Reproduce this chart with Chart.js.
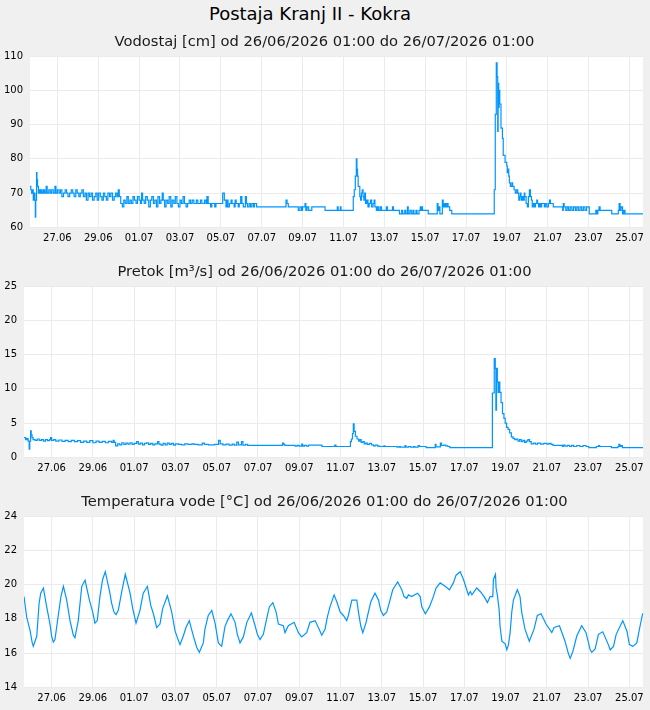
<!DOCTYPE html>
<html>
<head>
<meta charset="utf-8">
<script src="https://cdn.jsdelivr.net/npm/chart.js@4/dist/chart.umd.min.js"></script>
<style>
  body { margin: 0; background: #f0f0f0; width: 650px; height: 710px; overflow: hidden; font-family: 'DejaVu Sans', sans-serif; }
  #title { position: absolute; left: 0; width: 620px; top: 3px; text-align: center; font-size: 18px; color: #000; }
  .panel { position: absolute; left: 0; width: 650px; height: 230px; }
</style>
</head>
<body>
<div id="title">Postaja Kranj II - Kokra</div>
<div class="panel" style="top:26px"><canvas id="levelChart" width="650" height="230"></canvas></div>
<div class="panel" style="top:256px"><canvas id="flowChart" width="650" height="230"></canvas></div>
<div class="panel" style="top:486px"><canvas id="tempChart" width="650" height="230"></canvas></div>
<script>
// x positions are days since 26.06 00:00
const tickDays = [1, 3, 5, 7, 9, 11, 13, 15, 17, 19, 21, 23, 25, 27, 29];
const tickLabels = ['27.06', '29.06', '01.07', '03.07', '05.07', '07.07', '09.07', '11.07',
                    '13.07', '15.07', '17.07', '19.07', '21.07', '23.07', '25.07'];

// Vodostaj [cm]
const levelDays = [
  -0.34, -0.30, -0.26, -0.22, -0.18, -0.14, -0.10, -0.08, -0.06, -0.02,
  0.00, 0.03, 0.07, 0.12, 0.16, 0.20, 0.25, 0.32, 0.38, 0.45,
  0.50, 0.58, 0.65, 0.72, 0.80, 0.88, 0.93, 1.00, 1.08, 1.15,
  1.22, 1.30, 1.38, 1.45, 1.52, 1.60, 1.68, 1.75, 1.82, 1.90,
  1.97, 2.05, 2.12, 2.20, 2.27, 2.35, 2.42, 2.50, 2.57, 2.65,
  2.72, 2.80, 2.88, 2.95, 3.02, 3.10, 3.18, 3.25, 3.32, 3.40,
  3.47, 3.55, 3.62, 3.70, 3.78, 3.85, 3.92, 3.98, 4.03, 4.10,
  4.18, 4.25, 4.32, 4.40, 4.47, 4.55, 4.62, 4.70, 4.77, 4.85,
  4.92, 5.00, 5.07, 5.12, 5.17, 5.25, 5.32, 5.40, 5.47, 5.55,
  5.62, 5.70, 5.77, 5.85, 5.92, 6.00, 6.07, 6.13, 6.18, 6.25,
  6.32, 6.40, 6.47, 6.55, 6.62, 6.70, 6.77, 6.85, 6.92, 7.00,
  7.07, 7.15, 7.22, 7.30, 7.37, 7.45, 7.52, 7.60, 7.68, 7.80,
  7.87, 8.00, 8.07, 8.20, 8.27, 8.32, 8.38, 8.50, 8.56, 8.70,
  8.76, 9.00, 9.09, 9.17, 9.25, 9.30, 9.35, 9.42, 9.50, 9.55,
  9.65, 9.70, 9.75, 9.85, 9.90, 9.97, 10.03, 10.10, 10.20, 10.25,
  10.30, 10.38, 10.45, 10.52, 10.60, 10.65, 10.75, 12.19, 12.24, 12.30,
  12.79, 12.87, 12.95, 13.00, 13.12, 13.16, 13.22, 13.30, 13.45, 14.10,
  14.70, 14.74, 14.85, 14.88, 15.48, 15.53, 15.58, 15.63, 15.66, 15.69,
  15.72, 15.76, 15.80, 15.84, 15.88, 15.92, 15.96, 16.00, 16.04, 16.08,
  16.14, 16.20, 16.26, 16.32, 16.38, 16.45, 16.50, 16.54, 16.61, 16.66,
  16.72, 16.80, 16.86, 17.10, 17.15, 17.40, 17.45, 17.74, 17.85, 17.90,
  18.00, 18.05, 18.13, 18.17, 18.25, 18.32, 18.40, 18.45, 18.55, 18.60,
  18.70, 18.76, 18.80, 18.83, 18.87, 19.15, 19.59, 19.63, 19.67, 19.72,
  19.84, 19.88, 19.94, 20.00, 20.06, 20.12, 20.20, 20.30, 22.38, 22.43,
  22.48, 22.52, 22.55, 22.57, 22.60, 22.62, 22.65, 22.71, 22.78, 22.82,
  22.91, 22.99, 23.02, 23.05, 23.09, 23.12, 23.17, 23.24, 23.28, 23.35,
  23.41, 23.48, 23.53, 23.58, 23.61, 23.66, 23.69, 23.74, 23.79, 23.85,
  23.88, 23.94, 24.00, 24.05, 24.10, 24.15, 24.20, 24.24, 24.30, 24.35,
  24.40, 24.46, 24.50, 24.55, 24.60, 24.65, 24.70, 24.78, 24.83, 24.88,
  24.95, 25.03, 25.08, 25.13, 25.27, 25.73, 25.76, 25.80, 25.88, 25.95,
  26.02, 26.10, 26.18, 26.26, 26.35, 26.42, 26.50, 26.58, 26.66, 26.74,
  26.82, 26.90, 27.03, 27.35, 27.40, 27.45, 27.51, 27.56, 28.13, 28.45,
  28.49, 28.54, 28.59, 28.66, 28.72, 28.78, 29.68
];
const levelCm = [
  72, 71, 70, 71, 68, 70, 68, 63, 68, 76,
  74, 72, 70, 71, 70, 71, 70, 71, 70, 72,
  70, 71, 70, 71, 70, 72, 70, 71, 70, 71,
  69, 70, 71, 70, 69, 70, 71, 70, 69, 71,
  70, 69, 70, 71, 69, 70, 68, 70, 69, 70,
  68, 69, 70, 68, 70, 69, 68, 70, 69, 68,
  70, 69, 70, 68, 69, 70, 69, 71, 69, 67,
  66, 68, 67, 69, 67, 68, 67, 69, 68, 67,
  69, 68, 67, 70, 68, 67, 69, 68, 66, 68,
  69, 67, 68, 66, 69, 67, 68, 70, 68, 66,
  68, 67, 69, 66, 68, 67, 69, 67, 66, 68,
  67, 69, 67, 66, 67, 68, 67, 68, 67, 68,
  67, 68, 67, 68, 67, 69, 67, 66, 67, 66,
  67, 67, 70, 68, 66, 68, 66, 67, 68, 67,
  66, 68, 67, 66, 67, 69, 67, 66, 69, 67,
  66, 67, 66, 67, 66, 67, 66, 68, 67, 66,
  65, 66, 65, 66, 67, 65, 66, 65, 66, 65,
  66, 65, 66, 65, 69, 71, 75, 80, 77, 75,
  72, 72, 69, 68, 70, 71, 69, 68, 70, 67,
  68, 66, 67, 68, 66, 67, 68, 66, 65, 66,
  65, 66, 65, 66, 65, 66, 65, 64, 65, 64,
  65, 64, 66, 64, 65, 64, 65, 64, 65, 64,
  65, 66, 65, 66, 65, 64, 67, 65, 66, 64,
  68, 66, 67, 66, 67, 66, 65, 64, 71, 93,
  108, 104, 88, 102, 95, 100, 96, 89, 86, 81,
  79, 78, 76, 77, 75, 73, 72, 73, 72, 71,
  70, 71, 70, 68, 69, 70, 68, 69, 68, 70,
  69, 67, 66, 69, 71, 69, 68, 66, 67, 66,
  67, 68, 67, 66, 67, 66, 67, 67, 66, 67,
  66, 67, 68, 67, 66, 65, 67, 66, 65, 66,
  65, 66, 65, 66, 65, 66, 65, 66, 65, 66,
  65, 66, 64, 65, 64, 65, 66, 65, 64, 65,
  67, 65, 66, 64, 65, 64, 64
];

// Pretok [m3/s]
const flowDays = [
  -0.34, -0.26, -0.20, -0.14, -0.09, -0.06, -0.02, 0.01, 0.05, 0.10,
  0.20, 0.30, 0.40, 0.50, 0.60, 0.70, 0.80, 0.90, 0.95, 1.00,
  1.10, 1.20, 1.35, 1.50, 1.65, 1.80, 1.95, 2.10, 2.25, 2.40,
  2.55, 2.70, 2.85, 3.00, 3.15, 3.30, 3.45, 3.60, 3.75, 3.90,
  3.98, 4.03, 4.10, 4.20, 4.30, 4.40, 4.50, 4.60, 4.70, 4.80,
  4.90, 5.00, 5.12, 5.20, 5.30, 5.40, 5.50, 5.60, 5.70, 5.80,
  5.90, 6.00, 6.13, 6.20, 6.30, 6.40, 6.50, 6.60, 6.70, 6.80,
  6.90, 7.00, 7.15, 7.30, 7.45, 7.60, 7.80, 7.90, 8.10, 8.30,
  8.40, 8.60, 8.90, 9.09, 9.17, 9.30, 9.45, 9.60, 9.75, 9.85,
  9.97, 10.05, 10.20, 10.27, 10.40, 10.50, 12.19, 12.25, 12.30, 12.80,
  12.90, 13.00, 13.12, 13.17, 13.25, 13.35, 13.45, 14.10, 14.72, 14.78,
  15.48, 15.53, 15.58, 15.62, 15.66, 15.72, 15.80, 15.88, 15.94, 16.00,
  16.08, 16.15, 16.22, 16.30, 16.40, 16.50, 16.60, 16.70, 16.80, 16.90,
  17.10, 17.15, 17.74, 17.85, 17.90, 18.13, 18.17, 18.30, 18.40, 18.55,
  18.60, 18.76, 18.83, 19.15, 19.59, 19.63, 19.84, 19.90, 20.00, 20.10,
  20.20, 20.30, 22.36, 22.45, 22.50, 22.53, 22.56, 22.60, 22.64, 22.68,
  22.72, 22.78, 22.85, 22.92, 22.98, 23.05, 23.12, 23.20, 23.28, 23.36,
  23.44, 23.52, 23.60, 23.68, 23.76, 23.84, 23.92, 24.00, 24.08, 24.16,
  24.24, 24.35, 24.45, 24.55, 24.70, 24.85, 25.00, 25.10, 25.20, 25.30,
  25.75, 25.80, 25.88, 26.00, 26.10, 26.20, 26.30, 26.45, 26.60, 26.75,
  26.90, 27.03, 27.40, 27.50, 27.56, 28.13, 28.45, 28.49, 28.54, 28.60,
  28.66, 29.68
];
const flowM3s = [
  2.9, 2.6, 2.75, 2.4, 1.2, 2.4, 3.9, 3.3, 2.9, 2.6,
  2.5, 2.7, 2.5, 2.6, 2.4, 2.6, 2.45, 2.6, 2.9, 2.5,
  2.6, 2.4, 2.55, 2.35, 2.5, 2.3, 2.5, 2.3, 2.45, 2.2,
  2.4, 2.2, 2.45, 2.15, 2.4, 2.2, 2.35, 2.15, 2.35, 2.2,
  2.5, 2.2, 1.7, 2.0, 1.85, 2.15, 1.9, 2.1, 1.95, 2.15,
  1.9, 2.05, 2.3, 1.95, 2.1, 1.85, 2.05, 2.15, 1.9, 2.05,
  1.85, 2.0, 2.3, 1.95, 1.8, 2.05, 1.85, 2.1, 1.9, 2.05,
  1.8, 2.0, 1.9, 1.85, 2.0, 1.9, 2.0, 1.9, 1.85, 2.1,
  1.9, 1.85, 1.9, 2.5, 2.0, 1.85, 1.95, 1.8, 1.95, 1.8,
  2.25, 1.85, 2.3, 1.8, 1.9, 1.77, 2.1, 1.9, 1.77, 1.65,
  1.77, 1.65, 1.95, 1.65, 1.77, 1.65, 1.8, 1.6, 1.8, 1.6,
  2.3, 2.7, 3.5, 4.9, 3.8, 3.1, 2.7, 2.4, 2.6, 2.2,
  2.3, 2.0, 2.1, 1.9, 2.05, 1.85, 1.7, 1.8, 1.65, 1.6,
  1.7, 1.6, 1.5, 1.6, 1.5, 1.75, 1.5, 1.6, 1.5, 1.6,
  1.5, 1.75, 1.6, 1.45, 1.9, 1.55, 2.1, 1.75, 1.8, 1.7,
  1.6, 1.45, 9.4, 14.4, 13.0, 6.9, 13.0, 11.0, 9.5, 11.0,
  9.5, 8.0, 6.4, 5.7, 5.0, 4.4, 4.1, 3.6, 3.0, 2.8,
  2.6, 2.7, 2.4, 2.6, 2.3, 2.5, 2.2, 2.4, 2.6, 2.3,
  2.0, 2.1, 1.95, 2.1, 1.95, 2.05, 1.95, 2.05, 1.9, 1.77,
  1.6, 1.8, 1.65, 1.77, 1.6, 1.77, 1.6, 1.75, 1.6, 1.75,
  1.6, 1.45, 1.6, 1.75, 1.6, 1.45, 1.6, 1.9, 1.6, 1.75,
  1.45, 1.45
];

// Temperatura vode [°C]
const tempDays = [
  -0.34, -0.21, -0.05, 0.06, 0.11, 0.28, 0.39, 0.47, 0.60, 0.76,
  0.92, 1.00, 1.08, 1.16, 1.32, 1.45, 1.57, 1.73, 1.89, 2.05,
  2.13, 2.29, 2.46, 2.62, 2.83, 2.99, 3.10, 3.21, 3.34, 3.47,
  3.60, 3.80, 3.91, 4.02, 4.12, 4.23, 4.40, 4.57, 4.80, 4.93,
  5.09, 5.28, 5.44, 5.64, 5.80, 5.93, 6.09, 6.25, 6.38, 6.61,
  6.82, 6.98, 7.14, 7.22, 7.38, 7.51, 7.67, 7.87, 8.03, 8.16,
  8.35, 8.43, 8.59, 8.76, 8.92, 9.08, 9.24, 9.40, 9.52, 9.69,
  9.89, 10.00, 10.13, 10.29, 10.46, 10.68, 10.86, 10.97, 11.10, 11.26,
  11.42, 11.55, 11.72, 11.88, 11.99, 12.23, 12.31, 12.47, 12.75, 12.96,
  13.12, 13.36, 13.52, 13.77, 13.98, 14.09, 14.25, 14.36, 14.49, 14.69,
  14.85, 14.98, 15.14, 15.30, 15.38, 15.55, 15.79, 15.87, 15.98, 16.08,
  16.24, 16.35, 16.47, 16.67, 16.84, 16.95, 17.08, 17.24, 17.40, 17.53,
  17.77, 17.97, 18.08, 18.21, 18.29, 18.45, 18.73, 18.86, 18.94, 19.11,
  19.31, 19.50, 19.63, 19.83, 20.07, 20.28, 20.47, 20.60, 20.80, 20.96,
  21.09, 21.20, 21.29, 21.37, 21.60, 21.77, 21.96, 22.12, 22.25, 22.38,
  22.41, 22.51, 22.54, 22.60, 22.69, 22.73, 22.82, 22.98, 23.06, 23.14,
  23.22, 23.30, 23.38, 23.57, 23.70, 23.78, 23.94, 24.15, 24.38, 24.54,
  24.72, 24.96, 25.24, 25.35, 25.61, 25.88, 26.04, 26.13, 26.26, 26.45,
  26.69, 26.90, 27.10, 27.18, 27.34, 27.50, 27.71, 27.98, 28.07, 28.23,
  28.36, 28.68, 28.88, 29.00, 29.17, 29.36, 29.52, 29.64, 29.68
];
const tempC = [
  19.3, 18.1, 17.35, 16.6, 16.4, 17.0, 18.9, 19.5, 19.8, 18.7,
  17.7, 17.0, 16.65, 16.8, 18.2, 19.3, 19.9, 19.1, 17.9, 17.05,
  16.9, 17.9, 19.9, 20.25, 19.1, 18.4, 17.75, 17.9, 19.3, 20.3,
  20.75, 19.65, 18.9, 18.4, 18.25, 18.5, 19.6, 20.6, 19.5, 18.6,
  17.75, 18.5, 19.5, 19.9, 18.8, 18.3, 17.5, 17.7, 18.6, 19.35,
  18.4, 17.3, 16.75, 16.5, 17.0, 17.5, 17.9, 17.0, 16.35, 16.05,
  16.6, 17.4, 18.2, 18.5, 17.75, 16.6, 16.4, 17.55, 17.9, 18.3,
  17.8, 17.1, 16.6, 16.95, 17.8, 18.35, 17.6, 17.1, 16.8, 17.1,
  18.0, 18.7, 18.95, 18.4, 17.7, 17.6, 17.2, 17.6, 17.8, 17.2,
  16.95, 17.2, 17.8, 17.9, 17.35, 17.05, 17.4, 18.1, 18.7, 19.4,
  18.9, 18.4, 18.2, 17.9, 18.2, 19.1, 19.1, 18.4, 17.6, 17.2,
  17.8, 18.4, 19.0, 19.5, 19.1, 18.5, 18.2, 18.4, 19.1, 19.7,
  20.15, 19.7, 19.3, 19.2, 19.4, 19.3, 19.5, 19.3, 18.7, 18.3,
  18.7, 19.3, 19.8, 20.1, 19.9, 19.7, 20.1, 20.55, 20.75, 20.3,
  19.8, 19.4, 19.6, 19.4, 19.8, 19.6, 19.3, 18.95, 19.3, 19.3,
  20.3, 20.6, 19.8, 19.4, 18.5, 17.6, 16.7, 16.55, 16.2, 16.5,
  17.2, 18.4, 19.1, 19.7, 19.3, 18.4, 17.4, 16.7, 17.4, 18.2,
  18.3, 17.7, 17.2, 17.5, 17.6, 16.7, 16.0, 15.7, 16.1, 17.0,
  17.6, 17.2, 16.2, 16.05, 16.25, 17.1, 17.25, 16.5, 16.2, 16.4,
  17.1, 17.9, 17.3, 16.5, 16.4, 16.6, 17.6, 18.3, 18.3
];

Chart.defaults.font.family = "'DejaVu Sans', sans-serif";
Chart.defaults.font.size = 10;
Chart.defaults.color = '#000';

// white plot area + panel heading
const panelDecor = {
  id: 'panelDecor',
  beforeDraw(chart, args, opts) {
    const { ctx, chartArea } = chart;
    ctx.save();
    ctx.fillStyle = '#fff';
    ctx.fillRect(chartArea.left, chartArea.top, chartArea.right - chartArea.left, chartArea.bottom - chartArea.top);
    ctx.fillStyle = '#1a1a1a';
    ctx.font = "14.7px 'DejaVu Sans', sans-serif";
    ctx.textAlign = 'center';
    ctx.textBaseline = 'alphabetic';
    ctx.fillText(opts.text, 324.5, 20);
    ctx.restore();
  }
};

function makePanel(canvasId, days, values, heading, yMin, yMax, yStep, yWidth, stepped) {
  const points = days.map((d, i) => ({ x: d, y: values[i] }));
  return new Chart(document.getElementById(canvasId), {
    type: 'line',
    data: {
      datasets: [{
        data: points,
        borderColor: '#0096ff',
        borderWidth: 1.2,
        pointRadius: 0,
        stepped: stepped,
        tension: 0,
        fill: false
      }]
    },
    options: {
      responsive: false,
      animation: false,
      events: [],
      layout: { padding: { top: 30, right: 7, left: 0, bottom: 0 } },
      plugins: {
        legend: { display: false },
        tooltip: { enabled: false },
        panelDecor: { text: heading }
      },
      scales: {
        x: {
          type: 'linear',
          min: -0.34,
          max: 29.66,
          afterBuildTicks: (scale) => { scale.ticks = tickDays.map(v => ({ value: v })); },
          afterFit: (scale) => { scale.height = 28.5; },
          ticks: {
            autoSkip: false,
            maxRotation: 0,
            padding: 5,
            callback: (value, index) => tickLabels[index]
          },
          grid: { color: '#ebebeb', drawTicks: false },
          border: { display: false }
        },
        y: {
          min: yMin,
          max: yMax,
          afterFit: (scale) => { scale.width = yWidth; },
          ticks: { stepSize: yStep, padding: 7 },
          grid: { color: '#ebebeb', drawTicks: false },
          border: { display: false }
        }
      }
    },
    plugins: [panelDecor]
  });
}

makePanel('levelChart', levelDays, levelCm,
  'Vodostaj [cm] od 26/06/2026 01:00 do 26/07/2026 01:00', 60, 110, 10, 30, true);
makePanel('flowChart', flowDays, flowM3s,
  'Pretok [m³/s] od 26/06/2026 01:00 do 26/07/2026 01:00', 0, 25, 5, 24, true);
makePanel('tempChart', tempDays, tempC,
  'Temperatura vode [°C] od 26/06/2026 01:00 do 26/07/2026 01:00', 14, 24, 2, 24, false);
</script>
</body>
</html>
